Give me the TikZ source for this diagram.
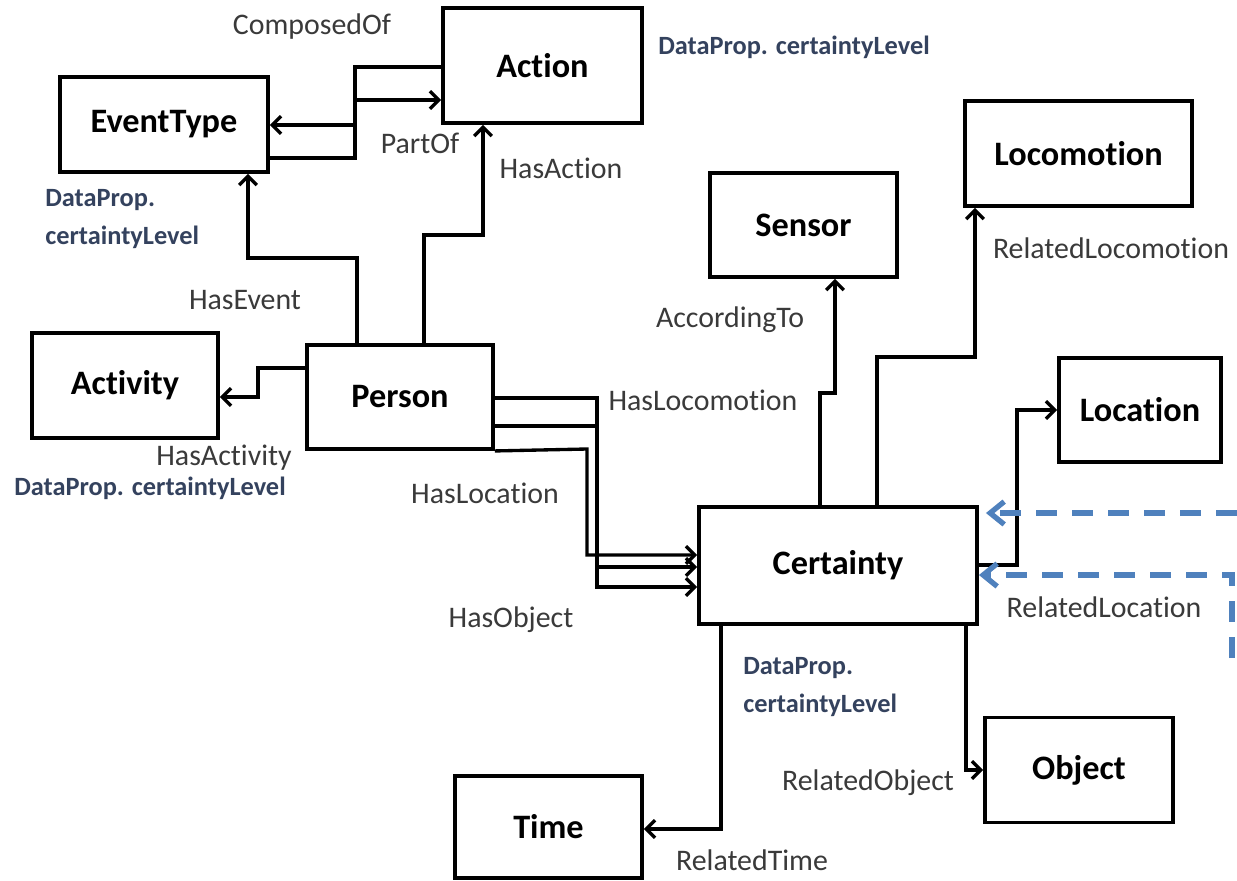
\documentclass[tikz,border=0pt]{standalone}
\usepackage{fontspec}
\setmainfont{Carlito}[Ligatures={NoCommon}]
\usetikzlibrary{arrows.meta}
\definecolor{lbl}{HTML}{3A3A3A}
\definecolor{dp}{HTML}{34425E}
\definecolor{dblue}{HTML}{4F81BD}
\begin{document}
\begin{tikzpicture}[x=0.02cm,y=-0.02cm,
 box/.style={draw=black, line width=2.2pt, fill=white, inner sep=0pt, font=\fontsize{19.5}{22}\selectfont\bfseries},
 bx/.style n args={2}{box, minimum width=#1*0.02cm, minimum height=#2*0.02cm},
 conn/.style={line width=1.9pt, line join=miter, -{Straight Barb[length=5pt,width=10pt]}},
 elabel/.style={text=lbl, inner sep=0pt, font=\fontsize{17}{20}\selectfont},
 dplabel/.style={text=dp, inner sep=0pt, align=left, font=\fontsize{15}{22}\selectfont\bfseries},
 dashconn/.style={draw=dblue, line width=3pt, dash pattern=on 12pt off 8.5pt, -{Straight Barb[length=8pt,width=13pt]}}
]
\fill[white] (0,0) rectangle (1237,880);
\useasboundingbox (0,0) rectangle (1237,880);

% nodes
\node[bx={208}{95}] (eventtype) at (164,124.5) {EventType};
\node[bx={199}{115}] (action) at (542.5,65.5) {Action};
\node[bx={187}{104}] (sensor) at (803.5,225) {Sensor};
\node[bx={227}{105}] (locomotion) at (1078.5,153.5) {Locomotion};
\node[bx={162}{104}] (location) at (1140,410) {Location};
\node[bx={186}{105}] (activity) at (125,385.5) {Activity};
\node[bx={186}{104}] (person) at (400,397) {Person};
\node[bx={278}{117}] (certainty) at (838,565.5) {Certainty};
\node[bx={187}{102}] (time) at (548.5,827) {Time};
\node[bx={188}{105}] (object) at (1079,770) {Object};

% connectors
\draw[conn] (action.west |- 0,67) -- (355,67) -- (355,125) -- (eventtype.east |- 0,125);
\draw[conn] (eventtype.east |- 0,158) -- (355,158) -- (355,100) -- (action.west |- 0,100);
\draw[conn] (357,0 |- person.north) -- (357,258) -- (248,258) -- (248,0 |- eventtype.south);
\draw[conn] (424,0 |- person.north) -- (424,235) -- (483,235) -- (483,0 |- action.south);
\draw[conn] (person.west |- 0,368) -- (258,368) -- (258,397) -- (activity.east |- 0,397);
\draw[conn] (person.east |- 0,398) -- (597,398) -- (597,587) -- (certainty.west |- 0,587);
\draw[conn] (person.east |- 0,426) -- (597,426) -- (597,567) -- (certainty.west |- 0,567);
\draw[conn] (person.south east) -- (587,449) -- (587,555) -- (certainty.west |- 0,555);
\draw[conn] (820,0 |- certainty.north) -- (820,393) -- (835,393) -- (835,0 |- sensor.south);
\draw[conn] (877,0 |- certainty.north) -- (877,357) -- (975,357) -- (975,0 |- locomotion.south);
\draw[conn] (certainty.east |- 0,565) -- (1017,565) -- (1017,410) -- (location.west |- 0,410);
\draw[conn] (721,0 |- certainty.south) -- (721,829) -- (time.east |- 0,829);
\draw[conn] (966,0 |- certainty.south) -- (966,770) -- (object.west |- 0,770);

% dashed blue connectors
\coordinate (d1) at (1237,513);
\coordinate (d2) at (1232,658);
\draw[dashconn, shorten >=4pt] (d1) -- (certainty.east |- 0,513);
\draw[dashconn] (d2) -- (1232,575) -- (certainty.east |- 0,575);

% labels
\node[elabel] (lcomp) at (312,27) {ComposedOf};
\node[elabel] (lpart) at (420,143) {PartOf};
\node[elabel] (lhasaction) at (561,168) {HasAction};
\node[elabel] (lhasevent) at (245,300) {HasEvent};
\node[elabel] (lhasactivity) at (224,458) {HasActivity};
\node[elabel] (lacc) at (730,320) {AccordingTo};
\node[elabel] (lhasloco) at (703,400) {HasLocomotion};
\node[elabel] (lhasloc) at (485,493) {HasLocation};
\node[elabel] (lhasobj) at (511,620) {HasObject};
\node[elabel] (lrelloco) at (1111,248) {RelatedLocomotion};
\node[elabel] (lrelloc) at (1104,607) {RelatedLocation};
\node[elabel] (lrelobj) at (868,783) {RelatedObject};
\node[elabel] (lreltime) at (752,860) {RelatedTime};

\node[dplabel] (dpaction) at (794,47) {DataProp. certaintyLevel};
\node[dplabel, anchor=west] (dpevent) at (45,219) {DataProp.\\ certaintyLevel};
\node[dplabel] (dpactivity) at (150,488) {DataProp. certaintyLevel};
\node[dplabel, anchor=west] (dpcert) at (743,687) {DataProp.\\ certaintyLevel};
\end{tikzpicture}
\end{document}
